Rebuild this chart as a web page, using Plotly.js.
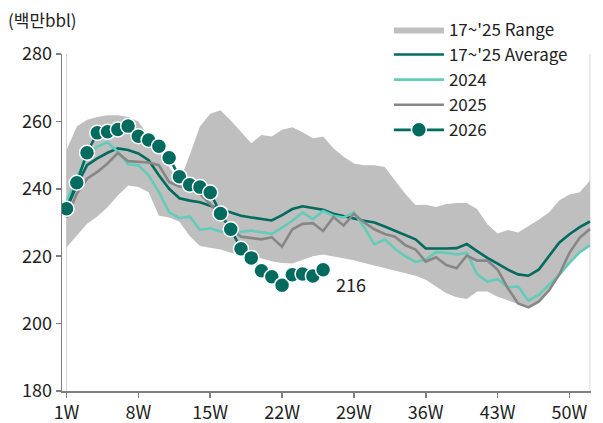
<!DOCTYPE html>
<html>
<head>
<meta charset="utf-8">
<script src="https://cdn.plot.ly/plotly-3.0.1.min.js"></script>
<style>html,body{margin:0;padding:0;background:#fff;}#chart{width:603px;height:423px;}</style>
</head>
<body>
<div id="chart"></div>
<script>
const weeks = [1,2,3,4,5,6,7,8,9,10,11,12,13,14,15,16,17,18,19,20,21,22,23,24,25,26,27,28,29,30,31,32,33,34,35,36,37,38,39,40,41,42,43,44,45,46,47,48,49,50,51,52];
const tickWeeks = [1,8,15,22,29,36,43,50];
const tickLabels = ['1W','8W','15W','22W','29W','36W','43W','50W'];

const rangeLow = [222.6,226,229.6,231.8,234.5,238,241,240.5,239,232,231.5,230.2,226,223,222.5,222,221,220.5,220,219.3,218.5,218,217.8,218.8,220,220.5,220,219.5,218.8,218,217.2,216.5,215.8,215,214.2,213,211,209,207.8,207.3,209.5,209.5,208,207,205.8,204.7,206.3,209.8,214.2,218,221.2,223.2];
const rangeHigh = [251.5,258.5,260.5,261.3,261.8,261.8,261.3,260,255.5,251,246.5,242,250,258.5,262.3,263.3,260.3,257,253.5,256,255.5,257.5,258.3,256.8,255,255.5,252,249.5,247.5,247,247,246.5,242.5,238.5,235.2,235.3,234.6,235.5,235.8,235.8,234,229.5,226.7,227.8,227,228.8,230.8,233,236.5,238.3,239,242.5];
const avg1725 = [234,241,247,249,250.7,252,251.5,250.5,248.5,244,240,237.2,236.5,236,235,234,233,232,231.5,231,230.6,232.2,234,234.8,234.2,233.8,232.6,231.8,231.2,230.5,230,228.8,227.6,226.3,225,222.3,222.2,222.3,222.4,223.6,221.5,219.5,217.8,216,214.6,214.2,216,220,224,226.5,228.6,230.3];
const y2024 = [236,243.5,249.5,252.5,253.8,251,247.3,247,244,239,233,231.3,231.8,227.8,228.3,227.3,226.8,227.1,227.6,227.1,226.6,228.5,230.5,233,231,233.4,232,231.5,233,228.5,223.5,225,222.2,220,218.3,219,221.2,221,220.5,221,214.7,212.5,213.2,210.8,211,206.8,208.5,211.5,214.5,218,221.2,223.2];
const y2025 = [231.5,238.5,243,245,247.5,250.6,248.2,248,247.8,247,242,240.7,240,238.5,235.5,232,228,225.8,225.3,225,225.6,222.8,228,229.6,229.8,227.5,231.6,229.1,232.6,230,228,226.6,225.8,223.3,222,218.4,219.7,217.4,216.4,220.2,218.7,218.7,216,210.5,206,204.8,206.5,209.8,214.5,221,225.5,228.1];
const y2026 = [234.1,241.8,250.7,256.6,256.9,257.6,258.6,255.6,254.5,252.6,249.2,243.6,241.2,240.5,238.9,232.7,228,222.2,219.5,215.7,213.9,211.4,214.5,214.7,214.1,216.0];
const seriesNames = ["17~'25 Range", "17~'25 Average", '2024', '2025', '2026'];
const unitLabel = '(백만bbl)';

const weeks2026 = weeks.slice(0, y2026.length);
const lastWeek = weeks2026[weeks2026.length - 1];
const lastVal = y2026[y2026.length - 1];

const FONT = '"Noto Sans CJK KR", "Noto Sans", sans-serif';
const DARK = '#006b5e';

const traces = [
  {x: weeks, y: rangeLow, mode: 'lines', line: {width: 0, color: '#bfbfbf'}, showlegend: false, hoverinfo: 'skip'},
  {x: weeks, y: rangeHigh, mode: 'lines', fill: 'tonexty', fillcolor: '#bfbfbf', line: {width: 0, color: '#bfbfbf'}, name: seriesNames[0]},
  {x: weeks, y: avg1725, mode: 'lines', line: {color: DARK, width: 2.6}, name: seriesNames[1]},
  {x: weeks, y: y2024, mode: 'lines', line: {color: '#63cbb9', width: 2.6}, name: seriesNames[2]},
  {x: weeks, y: y2025, mode: 'lines', line: {color: '#878787', width: 2.6}, name: seriesNames[3]},
  {x: weeks2026, y: y2026, mode: 'lines+markers', line: {color: DARK, width: 2.6},
   marker: {size: 15, color: DARK, line: {color: '#ffffff', width: 1.5}}, name: seriesNames[4]}
];

const layout = {
  width: 603, height: 423,
  margin: {l: 62, r: 12, t: 54, b: 32},
  paper_bgcolor: '#ffffff', plot_bgcolor: '#ffffff',
  font: {family: FONT, size: 18, color: '#222222'},
  showlegend: true,
  legend: {x: 0.618, xanchor: 'left', y: 1.125, yanchor: 'top', traceorder: 'normal',
           font: {family: FONT, size: 17, color: '#222222'},
           bgcolor: 'rgba(0,0,0,0)', itemwidth: 50, tracegroupgap: 0},
  xaxis: {range: [weeks[0] - 0.44, weeks[weeks.length - 1] + 0.1], tickmode: 'array', tickvals: tickWeeks, ticktext: tickLabels,
          showgrid: false, zeroline: false, showline: true, linecolor: '#7f7f7f', linewidth: 1.5,
          ticks: 'outside', ticklen: 5, tickcolor: '#7f7f7f', tickwidth: 1.5,
          tickfont: {family: FONT, size: 18, color: '#222222'}},
  yaxis: {range: [180, 280], tickmode: 'array', tickvals: [180,200,220,240,260,280],
          showgrid: false, zeroline: false, showline: true, linecolor: '#7f7f7f', linewidth: 1.5,
          ticks: 'outside', ticklen: 5, tickcolor: '#7f7f7f', tickwidth: 1.5,
          tickfont: {family: FONT, size: 18, color: '#222222'}},
  shapes: [
    {type: 'line', layer: 'below', xref: 'x', yref: 'paper', x0: weeks[0], x1: weeks[0], y0: 0, y1: 1, line: {color: '#d6d6d6', width: 1}},
    {type: 'line', layer: 'below', xref: 'x', yref: 'paper', x0: weeks[weeks.length-1], x1: weeks[weeks.length-1], y0: 0, y1: 1, line: {color: '#d6d6d6', width: 1}}
  ],
  annotations: [
    {text: unitLabel, xref: 'paper', yref: 'paper', x: 0, y: 1, xanchor: 'left', yanchor: 'middle', xshift: -56, yshift: 35,
     showarrow: false, font: {family: FONT, size: 17, color: '#222222'}},
    {text: String(Math.round(lastVal)), xref: 'x', yref: 'y', x: lastWeek, y: lastVal, xanchor: 'left', yanchor: 'middle',
     xshift: 11, yshift: -14, showarrow: false, font: {family: FONT, size: 18, color: '#222222'}}
  ]
};

Plotly.newPlot('chart', traces, layout, {displayModeBar: false, staticPlot: true});
</script>
</body>
</html>
